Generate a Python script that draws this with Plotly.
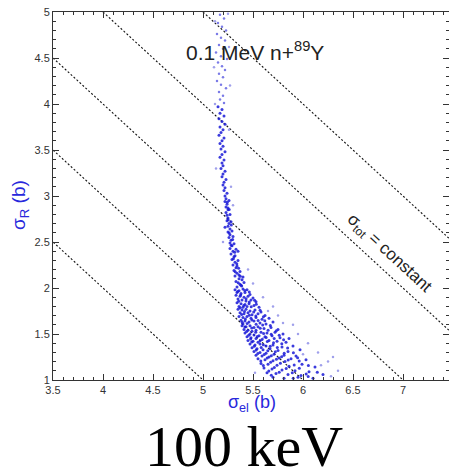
import plotly.graph_objects as go

# sigma_tot = constant guide lines (sigma_el + sigma_R = c)
tot_constants = [6, 7, 8, 9, 10]

# sparse upper tail of the cloud (sigma_el, sigma_R) in barns
upper_points = [
    (5.17,4.97),(5.21,4.93),(5.15,4.88),(5.19,4.84),(5.23,4.80),(5.14,4.76),(5.18,4.72),(5.22,4.69),
    (5.16,4.64),(5.20,4.60),(5.13,4.56),(5.18,4.52),(5.24,4.49),(5.15,4.45),(5.19,4.41),(5.22,4.37),
    (5.16,4.33),(5.20,4.29),(5.14,4.25),(5.18,4.21),(5.23,4.17),(5.16,4.13),(5.20,4.09),(5.17,4.05),
    (5.21,4.01),
]

# dense core of the scatter cloud (sigma_el, sigma_R) in barns
core_points = [
    (5.15,3.97),(5.19,3.94),(5.17,3.90),(5.21,3.87),(5.16,3.84),(5.19,3.81),(5.22,3.78),(5.17,3.75),
    (5.20,3.72),(5.18,3.69),(5.16,3.66),(5.21,3.63),(5.19,3.60),(5.17,3.57),(5.20,3.54),(5.18,3.51),
    (5.22,3.48),(5.19,3.45),(5.17,3.42),(5.21,3.39),(5.19,3.36),(5.20,3.33),(5.18,3.30),(5.22,3.27),
    (5.20,3.24),(5.19,3.21),(5.23,3.18),(5.21,3.15),(5.20,3.12),(5.22,3.09),(5.21,3.06),(5.24,3.03),
    (5.22,3.00),
    (5.23,2.97),(5.22,2.94),(5.24,2.91),(5.23,2.88),(5.25,2.85),(5.23,2.82),(5.24,2.79),(5.25,2.76),
    (5.24,2.73),(5.26,2.70),(5.25,2.67),(5.27,2.64),(5.25,2.61),(5.27,2.58),(5.26,2.55),(5.28,2.52),
    (5.27,2.49),(5.29,2.46),(5.27,2.43),(5.30,2.40),(5.28,2.37),(5.31,2.34),(5.29,2.31),(5.32,2.28),
    (5.30,2.25),(5.33,2.22),(5.31,2.19),(5.34,2.16),(5.32,2.13),(5.36,2.10),(5.33,2.07),(5.37,2.04),
    (5.34,2.01),
    (5.26,2.95),(5.25,2.87),(5.27,2.80),(5.28,2.72),(5.29,2.62),(5.30,2.56),(5.31,2.48),(5.33,2.42),
    (5.32,2.35),(5.35,2.30),(5.34,2.24),(5.37,2.18),(5.36,2.14),(5.39,2.09),(5.38,2.03),(5.41,2.06),
    (5.40,2.12),(5.35,2.40),(5.22,2.66),
    (5.243,2.932),(5.262,2.853),(5.251,2.741),(5.283,2.684),(5.262,2.598),(5.296,2.527),(5.282,2.466),
    (5.317,2.388),(5.304,2.318),(5.338,2.263),(5.322,2.176),(5.356,2.214),(5.373,2.127),(5.352,2.058),
    (5.387,2.021),
    (5.32,1.98),(5.36,1.97),(5.40,1.99),(5.44,1.98),(5.34,1.95),(5.38,1.94),(5.42,1.95),(5.47,1.93),
    (5.33,1.92),(5.37,1.91),(5.41,1.90),(5.45,1.91),(5.50,1.89),(5.35,1.88),(5.39,1.87),(5.43,1.86),
    (5.48,1.87),(5.53,1.85),(5.34,1.84),(5.38,1.83),(5.42,1.82),(5.46,1.83),(5.51,1.81),(5.36,1.80),
    (5.40,1.79),(5.44,1.80),(5.56,1.79),
    (5.35,1.77),(5.39,1.76),(5.43,1.77),(5.47,1.75),(5.52,1.76),(5.58,1.74),(5.37,1.73),(5.41,1.72),
    (5.45,1.73),(5.49,1.71),(5.55,1.72),(5.62,1.70),(5.36,1.69),(5.40,1.68),(5.44,1.69),(5.48,1.67),
    (5.53,1.68),(5.59,1.66),(5.66,1.67),(5.38,1.65),(5.42,1.64),(5.46,1.63),(5.51,1.64),(5.57,1.62),
    (5.63,1.61),(5.70,1.63),(5.40,1.61),
    (5.39,1.59),(5.43,1.58),(5.47,1.59),(5.51,1.57),(5.55,1.58),(5.61,1.56),(5.68,1.57),(5.75,1.55),
    (5.41,1.55),(5.45,1.54),(5.49,1.53),(5.53,1.54),(5.58,1.52),(5.64,1.51),(5.72,1.52),(5.80,1.50),
    (5.42,1.51),(5.47,1.50),(5.51,1.49),(5.56,1.48),(5.62,1.47),(5.69,1.48),(5.77,1.46),(5.86,1.45),
    (5.44,1.47),(5.48,1.46),(5.53,1.45),(5.59,1.44),(5.66,1.43),(5.74,1.42),(5.83,1.41),(5.45,1.43),
    (5.50,1.42),(5.55,1.41),
    (5.47,1.39),(5.52,1.38),(5.57,1.39),(5.63,1.37),(5.70,1.38),(5.79,1.36),(5.90,1.37),(5.49,1.35),
    (5.54,1.34),(5.60,1.33),(5.67,1.34),(5.75,1.32),(5.85,1.31),(5.97,1.33),(5.51,1.31),(5.57,1.30),
    (5.63,1.29),(5.71,1.28),(5.81,1.27),(5.93,1.26),(5.53,1.27),(5.59,1.26),(5.66,1.25),(5.76,1.24),
    (5.88,1.23),(6.03,1.22),(5.55,1.23),(5.62,1.22),(5.70,1.21),(5.82,1.20),
    (5.58,1.18),(5.65,1.17),(5.74,1.16),(5.86,1.15),(5.99,1.17),(6.12,1.14),(5.61,1.13),(5.69,1.12),
    (5.79,1.11),(5.92,1.10),(6.06,1.09),(5.64,1.08),(5.73,1.07),(5.85,1.06),(5.98,1.05),(6.20,1.06),
    (5.70,1.03),(5.81,1.02),(5.95,1.03),(6.10,1.02),
    (5.347,1.962),(5.418,1.973),(5.463,1.957),(5.377,1.924),(5.431,1.882),(5.516,1.868),(5.357,1.857),
    (5.463,1.848),(5.408,1.811),(5.482,1.797),(5.533,1.823),(5.372,1.786),(5.415,1.745),(5.507,1.738),
    (5.571,1.759),(5.386,1.712),(5.463,1.704),(5.528,1.697),(5.604,1.687),(5.424,1.663),(5.489,1.652),
    (5.551,1.648),(5.618,1.643),(5.392,1.628),(5.442,1.614),(5.531,1.607),(5.597,1.598),(5.673,1.592),
    (5.418,1.576),(5.487,1.566),(5.572,1.563),(5.651,1.541),(5.733,1.534),(5.436,1.528),(5.527,1.518),
    (5.606,1.506),(5.682,1.497),(5.762,1.487),(5.457,1.487),(5.543,1.472),(5.631,1.461),(5.712,1.452),
    (5.806,1.437),(5.476,1.447),(5.571,1.427),(5.643,1.418),(5.705,1.406),(5.788,1.395),(5.487,1.413),
    (5.603,1.383),(5.672,1.368),(5.743,1.352),(5.846,1.347),(5.512,1.367),(5.582,1.352),(5.648,1.318),
    (5.723,1.306),(5.812,1.292),(5.904,1.297),(5.532,1.327),(5.612,1.277),(5.683,1.263),(5.786,1.252),
    (5.946,1.243),(5.548,1.287),(5.642,1.238),(5.734,1.226),(5.852,1.217),(5.962,1.207),(5.578,1.207),
    (5.676,1.192),(5.774,1.183),(5.912,1.163),(6.054,1.157),(5.603,1.157),(5.713,1.137),(5.832,1.126),
    (5.963,1.128),(5.658,1.097),(5.762,1.083),(5.893,1.078),(6.032,1.064),(6.143,1.083),(5.683,1.052),
    (5.902,1.018),(6.052,1.038),
]

# faint outlying points around the band
halo_points = [
    (5.25,4.98),(5.12,4.90),(5.26,4.62),(5.11,4.40),(5.27,4.20),(5.12,4.00),(5.26,3.72),(5.13,3.30),
    (5.28,3.10),(5.30,2.90),(5.20,2.50),(5.45,2.20),(5.50,2.05),(5.60,1.90),(5.70,1.80),(5.65,1.75),
    (5.80,1.62),(5.90,1.60),(5.95,1.50),(6.05,1.40),(6.00,1.28),(6.15,1.30),(6.25,1.20),(6.18,1.16),
    (6.35,1.10),(6.30,1.25),(6.28,1.04),(5.52,1.08),(5.60,1.45),(5.75,1.70),
]

def split(points):
    return [p[0] for p in points], [p[1] for p in points]

upper_x, upper_y = split(upper_points)
core_x, core_y = split(core_points)
halo_x, halo_y = split(halo_points)

X_MIN, X_MAX = 3.5, 7.46
Y_MIN, Y_MAX = 1.0, 5.0

fig = go.Figure()

for c in tot_constants:
    fig.add_trace(go.Scatter(
        x=[c - Y_MAX, c - Y_MIN], y=[Y_MAX, Y_MIN], mode="lines",
        line=dict(color="#111111", width=1.1, dash="2px,2px"),
        hoverinfo="skip", showlegend=False))

fig.add_trace(go.Scatter(
    x=halo_x, y=halo_y, mode="markers",
    marker=dict(color="rgb(160,160,235)", size=2.5),
    showlegend=False))
fig.add_trace(go.Scatter(
    x=upper_x, y=upper_y, mode="markers",
    marker=dict(color="rgb(90,90,225)", size=2.5, opacity=0.8),
    showlegend=False))
fig.add_trace(go.Scatter(
    x=core_x, y=core_y, mode="markers",
    marker=dict(color="rgb(25,25,215)", size=3, opacity=0.85),
    showlegend=False))

L, R, T, B = 53, 0, 12, 94
W, H = 449, 474
plot_w = W - L - R
plot_h = H - T - B

def px_to_paper_x(px):
    return (px - L) / plot_w

def px_to_paper_y(py):
    return (H - B - py) / plot_h

axis_common = dict(
    showline=True, linecolor="#333333", linewidth=1, mirror="ticks",
    ticks="inside", ticklen=6, tickcolor="#333333", tickwidth=1,
    showgrid=False, zeroline=False,
    tickfont=dict(family="Liberation Sans, Arial, sans-serif", size=11, color="#333333"),
)

fig.update_xaxes(range=[X_MIN, X_MAX], dtick=0.5, tick0=3.5,
                 minor=dict(dtick=0.1, ticks="inside", ticklen=3, tickcolor="#333333"),
                 **axis_common)
fig.update_yaxes(range=[Y_MIN, Y_MAX], dtick=0.5, tick0=1,
                 minor=dict(dtick=0.1, ticks="inside", ticklen=3, tickcolor="#333333"),
                 **axis_common)

sans = "Liberation Sans, Arial, sans-serif"
annotations = [
    dict(text="0.1 MeV n+<sup>89</sup>Y", x=5.52, y=4.58, xref="x", yref="y",
         xanchor="center", yanchor="middle",
         showarrow=False, font=dict(family=sans, size=21, color="#222222")),
    dict(text="σ<sub>tot</sub> = constant", x=6.86, y=2.37, xref="x", yref="y",
         xanchor="center", yanchor="middle",
         textangle=42.6, showarrow=False,
         font=dict(family=sans, size=17, color="#222222")),
    dict(text="σ<sub>el</sub> (b)", x=px_to_paper_x(252), y=px_to_paper_y(403),
         xref="paper", yref="paper", xanchor="center", yanchor="middle", showarrow=False,
         font=dict(family=sans, size=18, color="rgb(40,40,220)")),
    dict(text="σ<sub>R</sub> (b)", x=px_to_paper_x(20), y=px_to_paper_y(205),
         xref="paper", yref="paper", xanchor="center", yanchor="middle",
         showarrow=False, textangle=-90,
         font=dict(family=sans, size=19, color="rgb(40,40,220)")),
    dict(text="100 keV", x=px_to_paper_x(244), y=px_to_paper_y(446),
         xref="paper", yref="paper", xanchor="center", yanchor="middle", showarrow=False,
         font=dict(family="Liberation Serif, Times New Roman, serif", size=58, color="#000000")),
]

fig.update_layout(
    width=W, height=H,
    margin=dict(l=L, r=R, t=T, b=B),
    paper_bgcolor="white", plot_bgcolor="white",
    annotations=annotations,
    showlegend=False,
)

fig.write_html("out.html")
